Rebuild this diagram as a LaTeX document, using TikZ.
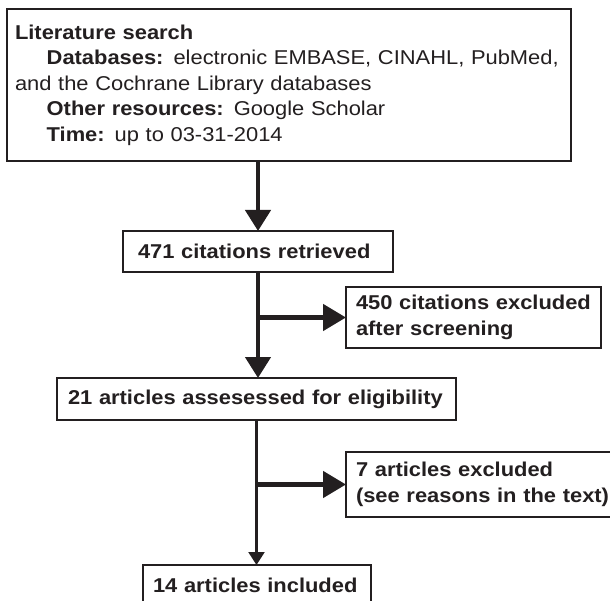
\documentclass[tikz,border=0pt]{standalone}
\usepackage{fontspec}
\setmainfont{Liberation Sans}[FakeStretch=1.095]
\usetikzlibrary{arrows.meta,calc}
\definecolor{ink}{HTML}{231F20}
\begin{document}
\begin{tikzpicture}[x=1pt,y=-1pt,
  box/.style={draw=ink,text=ink,line width=2pt,outer sep=0pt,anchor=north west,
    align=left,inner ysep=0pt,font=\fontsize{20}{25.5}\selectfont\bfseries},
  bigarrow/.style={draw=ink,line width=4.4pt,-{Triangle[length=21pt,width=25pt]}},
  branch/.style={draw=ink,line width=4.6pt,-{Triangle[length=23pt,width=26pt]}},
  thinarrow/.style={draw=ink,line width=2.2pt,-{Triangle[length=13pt,width=16pt]}}]
\useasboundingbox (0,0) rectangle (610,601);
\clip (0,0) rectangle (610,601);
\fill[white] (0,0) rectangle (610,601);

\node[box,font=\fontsize{20}{25.5}\selectfont,minimum height=152pt,text width=548pt,inner xsep=8pt]
  (A) at (7,9) {\textbf{Literature search}\\
  \hspace*{31.7pt}\textbf{Databases:} electronic EMBASE, CINAHL, PubMed,\\
  and the Cochrane Library databases\\
  \hspace*{31.7pt}\textbf{Other resources:} Google Scholar\\
  \hspace*{31.7pt}\textbf{Time:} up to 03-31-2014};

\node[box,minimum height=41pt,text width=240pt,inner xsep=15pt] (B) at (123,231) {471 citations retrieved};
\node[box,minimum height=61pt,text width=235pt,inner xsep=10pt] (C) at (346,287) {\mbox{450 citations excluded}\\after screening};
\node[box,minimum height=42pt,text width=377pt,inner xsep=11pt] (D) at (57,378) {21 articles assesessed for eligibility};
\node[box,minimum height=65pt,text width=264pt,inner xsep=10pt] (E) at (346,452) {7 articles excluded\\\mbox{(see reasons in the text)}};
\node[box,minimum height=41pt,text width=208pt,inner xsep=10pt] (F) at (143,565) {14 articles included};

\draw[bigarrow] (B.north |- A.south) -- (B.north);
\draw[bigarrow] (B.south) -- (B.south |- D.north);
\coordinate (j1) at (B.south |- C.west);
\draw[branch] (j1) -- (C.west);
\draw[thinarrow] (D.south) -- (D.south |- F.north);
\coordinate (j2) at (D.south |- E.west);
\draw[branch] (j2) -- (E.west);
\end{tikzpicture}
\end{document}
